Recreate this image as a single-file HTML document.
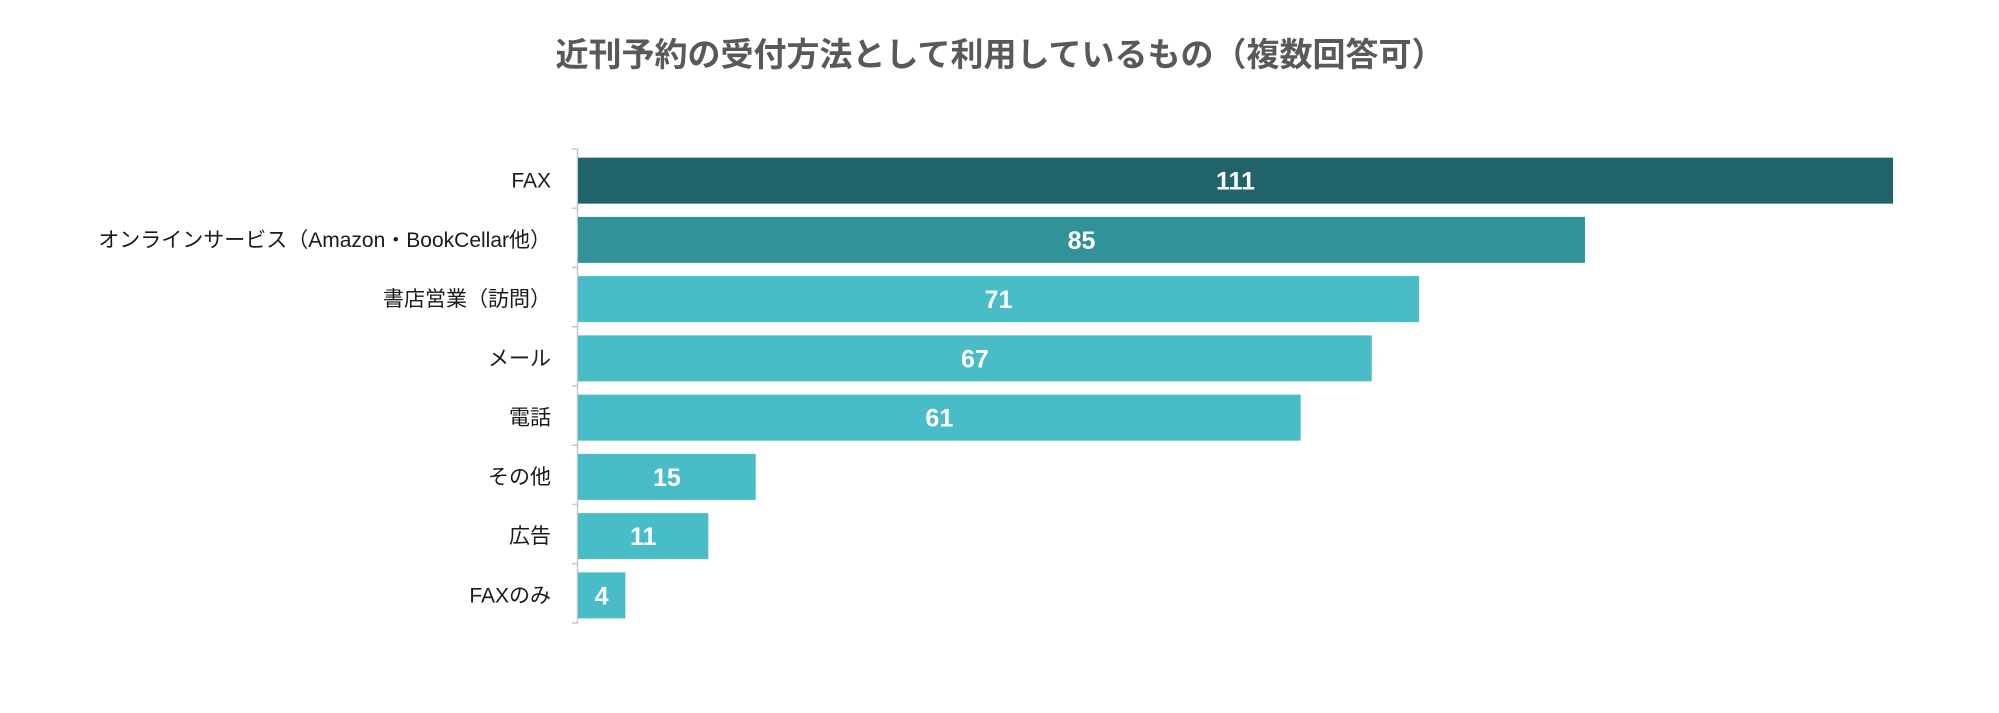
<!DOCTYPE html>
<html><head><meta charset="utf-8"><style>
body{margin:0;background:#fff;width:1999px;height:708px;overflow:hidden;font-family:"Liberation Sans","Noto Sans CJK JP",sans-serif}
</style></head><body>
<svg id="chart" width="1999" height="708" xmlns="http://www.w3.org/2000/svg">
<text x="1000" y="66" text-anchor="middle" font-size="33" font-weight="bold" fill="#595959" font-family="Liberation Sans, Noto Sans CJK JP, sans-serif">近刊予約の受付方法として利用しているもの（複数回答可）</text>
<g id="bars"></g>
</svg>
<script>
const categories=["FAX","オンラインサービス（Amazon・BookCellar他）","書店営業（訪問）","メール","電話","その他","広告","FAXのみ"];
const values=[111,85,71,67,61,15,11,4];
const colors=["#206369","#31929A","#48BCC7","#48BCC7","#48BCC7","#48BCC7","#48BCC7","#48BCC7"];
const x0=578,xmax=111,pxMax=1315,top0=149,band=59.25,barH=46;
const xs=v=>x0+v/xmax*pxMax;
const g=document.getElementById('bars');
const NS="http://www.w3.org/2000/svg";
function mk(t,a){const e=document.createElementNS(NS,t);for(const k in a)e.setAttribute(k,a[k]);return e;}
const ax=mk('line',{x1:x0-0.5,x2:x0-0.5,y1:top0,y2:top0+band*8,stroke:'#c8c8c8','stroke-width':1.5});


g.appendChild(ax);
for(let i=0;i<=categories.length;i++){
 const t=mk('line',{x1:x0-6,x2:x0,y1:top0+band*i,y2:top0+band*i,stroke:'#c8c8c8','stroke-width':1.5});
 
 
 g.appendChild(t);
}
categories.forEach((c,i)=>{
 const yc=top0+band*i+band/2+2;
 const r=mk('rect',{x:x0,y:yc-barH/2,width:xs(values[i])-x0,height:barH,fill:colors[i]});
 
 
 g.appendChild(r);
 const l=mk('text',{x:551,y:yc+7,'text-anchor':'end','font-size':21,fill:'#1a1a1a'});
 l.textContent=c;
 
 
 g.appendChild(l);
 const v=mk('text',{x:(x0+xs(values[i]))/2,y:yc+9,'text-anchor':'middle','font-size':25,'font-weight':'bold',fill:'#fff'});
 v.textContent=values[i];
 
 
 g.appendChild(v);
});
</script>
</body></html>
